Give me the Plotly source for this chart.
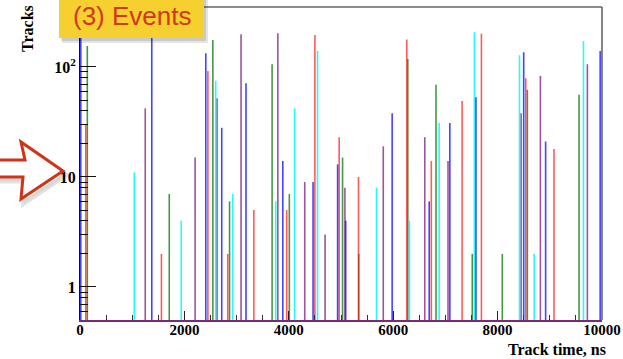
import plotly.graph_objects as go

# ---------------- data ----------------
blue_t = [15, 1375, 2410, 2715, 3180, 3885, 4465, 4935, 5090, 5980, 6690, 7085, 7585, 8500, 8920, 9965]
blue_h = [400, 400, 133, 28, 71, 14, 9, 13, 4, 38, 6, 31, 53, 136, 21, 140]

red_t = [110, 1560, 2450, 2830, 3330, 3960, 4500, 4965, 5335, 6260, 6730, 7320, 7690, 8540, 9080]
red_h = [30, 2, 92, 2, 5, 5, 195, 23, 10, 178, 14, 49, 200, 79, 18]

green_t = [140, 1710, 2545, 2865, 3680, 4010, 5030, 5340, 6280, 6820, 7515, 8090, 8570, 9560]
green_h = [155, 7, 176, 6, 106, 7, 15, 2, 118, 69, 2, 2, 62, 56]

cyan_t = [1040, 1940, 2600, 2925, 3750, 4110, 4550, 5680, 6310, 6880, 7555, 8420, 8700, 9645]
cyan_h = [11, 4, 75, 7, 6, 42, 140, 8, 4, 31, 207, 128, 2, 172]

purple_t = [1250, 2205, 2625, 3085, 3790, 4305, 4695, 5075, 5810, 6605, 7050, 8450, 8820, 9720]
purple_h = [42, 15, 52, 198, 202, 9, 3, 8, 19, 23, 14, 38, 83, 106]

x_ticks = [0, 2000, 4000, 6000, 8000, 10000]
x_tick_text = ["0", "2000", "4000", "6000", "8000", "10000"]
y_ticks = [1, 10, 100]
y_tick_text = ["1", "10", "10<sup>2</sup>"]
y_base = 0.5

series = [
    (purple_t, purple_h, "rgba(125,25,125,0.75)"),
    (green_t, green_h, "rgba(10,115,10,0.75)"),
    (cyan_t, cyan_h, "rgba(0,250,250,0.85)"),
    (red_t, red_h, "rgba(255,20,20,0.7)"),
    (blue_t, blue_h, "rgba(20,20,255,0.8)"),
]

# ---------------- geometry helpers (pixel -> paper) ----------------
W, H = 623, 359
ML, MR, MT, MB = 80, 21, 7, 39
PW, PH = W - ML - MR, H - MT - MB


def px(x):
    return (x - ML) / PW


def py(y):
    return (H - MB - y) / PH


fig = go.Figure()
for ts, hs, col in series:
    xs, ys = [], []
    for t, h in zip(ts, hs):
        xs += [t, t, None]
        ys += [y_base, h, None]
    fig.add_trace(go.Scatter(x=xs, y=ys, mode="lines",
                             line=dict(color=col, width=1.6),
                             hoverinfo="skip", showlegend=False))

serif = "Liberation Serif"
minor_y = [0.5, 0.6, 0.7, 0.8, 0.9] + [2, 3, 4, 5, 6, 7, 8, 9] + \
          [20, 30, 40, 50, 60, 70, 80, 90] + [200, 300]

fig.update_layout(
    width=W, height=H, autosize=False,
    margin=dict(l=ML, r=MR, t=MT, b=MB),
    paper_bgcolor="white", plot_bgcolor="white",
    showlegend=False,
    xaxis=dict(range=[0, 10000], tickvals=x_ticks, ticktext=x_tick_text, automargin=False,
               ticks="inside", ticklen=9, tickcolor="#222", tickwidth=1,
               ticklabelstandoff=-5,
               minor=dict(dtick=500, ticks="inside", ticklen=5, tickcolor="#333"),
               showgrid=False, zeroline=False,
               showline=True, linecolor="#7a2a7a", linewidth=2,
               tickfont=dict(family=serif, size=15, color="black", weight="bold")),
    yaxis=dict(type="log", range=[-0.3, 2.545], automargin=False,
               tickvals=y_ticks, ticktext=y_tick_text,
               ticks="inside", ticklen=16, tickcolor="#111", tickwidth=1,
               minor=dict(tickvals=minor_y, ticks="inside", ticklen=8, tickcolor="#111"),
               showgrid=False, zeroline=False,
               showline=True, linecolor="#111", linewidth=1,
               tickfont=dict(family=serif, size=16, color="black", weight="bold")),
)

shapes = [
    # top and right frame lines
    dict(type="line", xref="paper", yref="paper", x0=0, x1=1, y0=1, y1=1,
         line=dict(color="#666", width=1.6)),
    dict(type="line", xref="paper", yref="paper", x0=1, x1=1, y0=0, y1=1,
         line=dict(color="#666", width=1.6)),
]

# arrow (outlined) with a soft shadow
arrow_pts = [(-4, 160), (25, 160), (21, 142), (63, 171), (21, 199), (23, 177), (-4, 177)]


def path_of(pts, dx=0, dy=0):
    s = "M " + " L ".join(f"{px(x + dx):.5f},{py(y + dy):.5f}" for x, y in pts) + " Z"
    return s


shapes.append(dict(type="path", xref="paper", yref="paper", path=path_of(arrow_pts, 3, 4),
                   line=dict(color="rgba(0,0,0,0.12)", width=5), fillcolor="rgba(0,0,0,0.04)"))
shapes.append(dict(type="path", xref="paper", yref="paper", path=path_of(arrow_pts),
                   line=dict(color="#cf3318", width=3), fillcolor="white"))

# yellow label box with shadow
shapes.append(dict(type="rect", xref="paper", yref="paper",
                   x0=px(62), x1=px(208), y0=py(43), y1=py(-5),
                   line=dict(width=0), fillcolor="rgba(0,0,0,0.10)"))
shapes.append(dict(type="rect", xref="paper", yref="paper",
                   x0=px(61), x1=px(206), y0=py(41), y1=py(-5),
                   line=dict(width=0), fillcolor="rgba(0,0,0,0.12)"))
shapes.append(dict(type="rect", xref="paper", yref="paper",
                   x0=px(59), x1=px(204), y0=py(38), y1=py(-5),
                   line=dict(width=0), fillcolor="#f5d02e"))
fig.update_layout(shapes=shapes)

fig.add_annotation(xref="paper", yref="paper", x=px(132), y=py(16),
                   text="(3) Events", showarrow=False, xanchor="center", yanchor="middle",
                   font=dict(family="Liberation Sans", size=26, color="#d0381a"))
fig.add_annotation(xref="paper", yref="paper", x=px(27), y=py(29),
                   text="Tracks", showarrow=False, textangle=-90,
                   xanchor="center", yanchor="middle",
                   font=dict(family=serif, size=16, color="black", weight="bold"))
fig.add_annotation(xref="paper", yref="paper", x=px(607), y=py(359),
                   text="Track time, ns", showarrow=False,
                   xanchor="right", yanchor="bottom", borderpad=0,
                   font=dict(family=serif, size=16, color="black", weight="bold"))

fig.write_html("out.html", config={"displayModeBar": False},
               post_script="document.body.style.margin='0px';")
